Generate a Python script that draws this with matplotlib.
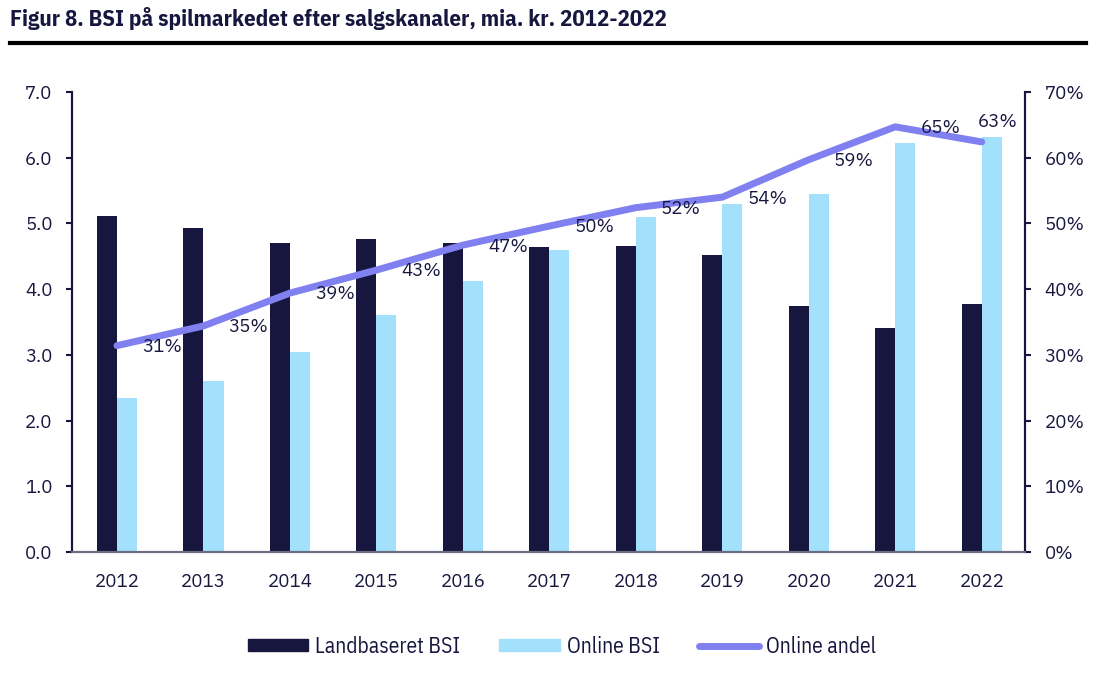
import numpy as np
import matplotlib.pyplot as plt
from matplotlib.lines import Line2D
from matplotlib.patches import Patch

years = ['2012', '2013', '2014', '2015', '2016', '2017', '2018', '2019', '2020', '2021', '2022']
landbaseret = [5.11, 4.93, 4.70, 4.76, 4.70, 4.64, 4.66, 4.52, 3.74, 3.41, 3.77]
online = [2.34, 2.60, 3.04, 3.61, 4.12, 4.60, 5.10, 5.30, 5.45, 6.22, 6.32]
andel = [31.4, 34.4, 39.4, 42.9, 46.7, 49.6, 52.4, 54.0, 59.7, 64.7, 62.4]
andel_labels = ['31%', '35%', '39%', '43%', '47%', '50%', '52%', '54%', '59%', '65%', '63%']

navy = '#17163f'
light = '#a3e0fb'
purple = '#8080f0'
cond = ['IBM Plex Sans Condensed', 'DejaVu Sans']
plex = ['IBM Plex Sans', 'DejaVu Sans']

fig = plt.figure(figsize=(10.96, 6.73), dpi=100)
ax = fig.add_axes([72/1096, 1 - 552/673, (1025-72)/1096, (552-92)/673])
ax2 = ax.twinx()

x = np.arange(len(years))
w = 0.232
ax.bar(x - w/2, landbaseret, w, color=navy, zorder=2)
ax.bar(x + w/2, online, w, color=light, zorder=2)
ax.set_ylim(0, 7)
ax.set_yticks(np.arange(0, 7.1, 1))
ax.set_yticklabels([f'{v:.1f}' for v in np.arange(0, 7.1, 1)])
ax.set_xlim(-0.52, 10.5)
ax.set_xticks(x)
ax.set_xticklabels(years)

ax2.plot(x, andel, color=purple, lw=5, solid_capstyle='round', zorder=3)
ax2.set_ylim(0, 70)
ax2.set_yticks(np.arange(0, 71, 10))
ax2.set_yticklabels([f'{v}%' for v in range(0, 71, 10)])
for i, (v, t) in enumerate(zip(andel, andel_labels)):
    if i == len(andel) - 1:
        off = (11.5, 14)
    else:
        off = (32.5, -1)
    ax2.annotate(t, (x[i], v), xytext=off, textcoords='offset points',
                 ha='center', va='center', fontsize=13.5, color=navy, family=plex)

for a in (ax, ax2):
    a.spines['top'].set_visible(False)
    a.spines['left'].set_color(navy)
    a.spines['right'].set_color(navy)
    a.spines['left'].set_linewidth(1.5)
    a.spines['right'].set_linewidth(1.5)
    a.spines['bottom'].set_color('#6c6c80')
    a.spines['bottom'].set_linewidth(1.5)
    a.tick_params(axis='y', length=4.5, width=1.5, color=navy, labelsize=13.5, labelcolor=navy, pad=9.5)
    for lab in a.get_yticklabels():
        lab.set_family(plex)
ax.tick_params(axis='x', length=0, labelsize=13.5, labelcolor=navy, pad=15)
for lab in ax.get_xticklabels():
    lab.set_family(plex)

fig.text(10/1096, 1 - 18/673, 'Figur 8. BSI på spilmarkedet efter salgskanaler, mia. kr. 2012-2022',
         fontsize=16.5, fontweight='bold', color=navy, family=cond, va='center')
fig.add_artist(Line2D([10/1096, 1086/1096], [1 - 43/673, 1 - 43/673], color='black', lw=3))

handles = [Patch(color=navy, label='Landbaseret BSI'),
           Patch(color=light, label='Online BSI'),
           Line2D([0], [0], color=purple, lw=5, solid_capstyle='round', label='Online andel')]
fig.legend(handles=handles, loc='center', bbox_to_anchor=(562/1096, 1 - 647/673), ncol=3,
           frameon=False, prop={'family': cond, 'size': 15.5}, handlelength=2.8,
           handleheight=0.5, columnspacing=1.8, handletextpad=0.33, labelcolor=navy)

fig.savefig('out.png', dpi=100)
